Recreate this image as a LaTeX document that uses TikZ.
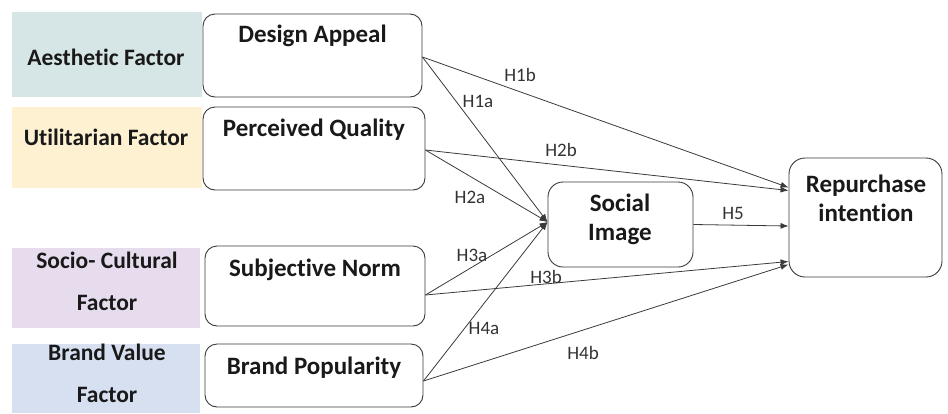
\documentclass[tikz,border=0pt]{standalone}
\usepackage{fontspec}
\setmainfont{Carlito}[Ligatures=NoCommon, Contextuals=NoAlternate]
\usetikzlibrary{arrows.meta,calc}
\definecolor{aescol}{HTML}{D6E5E5}
\definecolor{utilcol}{HTML}{FDF1D2}
\definecolor{sociocol}{HTML}{E7DCED}
\definecolor{brandcol}{HTML}{D7E0F0}
\definecolor{edgecol}{HTML}{3A3A3A}
\begin{document}
\begin{tikzpicture}[x=1pt,y=-1pt,
  fbox/.style={draw=none, inner sep=0pt},
  ftxt/.style={font=\fontsize{23.5}{42}\selectfont\bfseries, align=center, inner sep=0pt, text=black!90},
  wbox/.style={draw=edgecol, line width=0.9pt, rounded corners=12pt, fill=white, inner sep=0pt},
  btxt/.style={font=\fontsize{25}{29}\selectfont\bfseries, align=center, inner sep=0pt, text=black!90},
  conn/.style={draw=edgecol, line width=0.8pt, -{Latex[length=8pt,width=6pt]}},
  hlab/.style={font=\fontsize{19}{22}\selectfont, inner sep=0pt, text=black!80}
]
\useasboundingbox (0,0) rectangle (948,413);

% factor backgrounds
\node[fbox, fill=aescol, minimum width=190pt, minimum height=85pt] (aesbg) at (107,54.5) {};
\node[fbox, fill=utilcol, minimum width=190pt, minimum height=81pt] (utilbg) at (107,147.5) {};
\node[fbox, fill=sociocol, minimum width=188pt, minimum height=80pt] (sociobg) at (106,288) {};
\node[fbox, fill=brandcol, minimum width=188pt, minimum height=69pt] (brandbg) at (106,378.5) {};

\node[ftxt] (aestxt) at (106,57) {Aesthetic Factor};
\node[ftxt] (utiltxt) at (106,137) {Utilitarian Factor};
\node[ftxt] (sociotxt) at (107,281) {Socio- Cultural\\Factor};
\node[ftxt] (brandtxt) at (107,373) {Brand Value\\Factor};

% construct boxes
\node[wbox, minimum width=219pt, minimum height=83pt] (da) at (312.5,55.5) {};
\node[wbox, minimum width=222pt, minimum height=83pt] (pq) at (314,148.5) {};
\node[wbox, minimum width=220pt, minimum height=80pt] (sn) at (315,286) {};
\node[wbox, minimum width=218pt, minimum height=63pt] (bp) at (314,375.5) {};
\node[wbox, rounded corners=15pt, minimum width=145pt, minimum height=85pt] (si) at (620.5,224.5) {};
\node[wbox, rounded corners=16pt, minimum width=153pt, minimum height=119pt] (rp) at (865.5,217.5) {};

\node[btxt] (datxt) at ([yshift=-22pt]da.north) {Design Appeal};
\node[btxt] (pqtxt) at ([yshift=-23pt]pq.north) {Perceived Quality};
\node[btxt] (sntxt) at ([yshift=-24pt]sn.north) {Subjective Norm};
\node[btxt] (bptxt) at ([yshift=-24pt]bp.north) {Brand Popularity};
\node[btxt] (sitxt) at (620,219) {Social\\Image};
\node[btxt] (rptxt) at (866,198) {Repurchase\\intention};

% connection points
\coordinate (daout) at ([yshift=-1.5pt]da.east);
\coordinate (pqout) at ([yshift=-1.5pt]pq.east);
\coordinate (snout) at ([yshift=-9pt]sn.east);
\coordinate (bpout) at ([yshift=-5.5pt]bp.east);
\coordinate (siin) at ([yshift=2.5pt]si.west);
\coordinate (siout) at (si.east);
\coordinate (rpin1) at ([yshift=30pt]rp.west);
\coordinate (rpin2) at ([yshift=27pt]rp.west);
\coordinate (rpin5) at ([yshift=-8.5pt]rp.west);
\coordinate (rpin3) at ([yshift=-44pt]rp.west);
\coordinate (rpin4) at ([yshift=-47pt]rp.west);

% connectors
\draw[conn] (daout) -- (rpin1);
\draw[conn] (daout) -- (siin);
\draw[conn] (pqout) -- (rpin2);
\draw[conn] (pqout) -- (siin);
\draw[conn] (snout) -- (siin);
\draw[conn] (snout) -- (rpin3);
\draw[conn] (bpout) -- (siin);
\draw[conn] (bpout) -- (rpin4);
\draw[conn] (siout) -- (rpin5);

% labels
\node[hlab] (h1b) at (520,75) {H1b};
\node[hlab] (h1a) at (478,101) {H1a};
\node[hlab] (h2b) at (561,150) {H2b};
\node[hlab] (h2a) at (470,197.5) {H2a};
\node[hlab] (h3a) at (472,255) {H3a};
\node[hlab] (h3b) at (546,277) {H3b};
\node[hlab] (h4a) at (484,328) {H4a};
\node[hlab] (h4b) at (583,353) {H4b};
\node[hlab] (h5) at (733,213) {H5};
\end{tikzpicture}
\end{document}
